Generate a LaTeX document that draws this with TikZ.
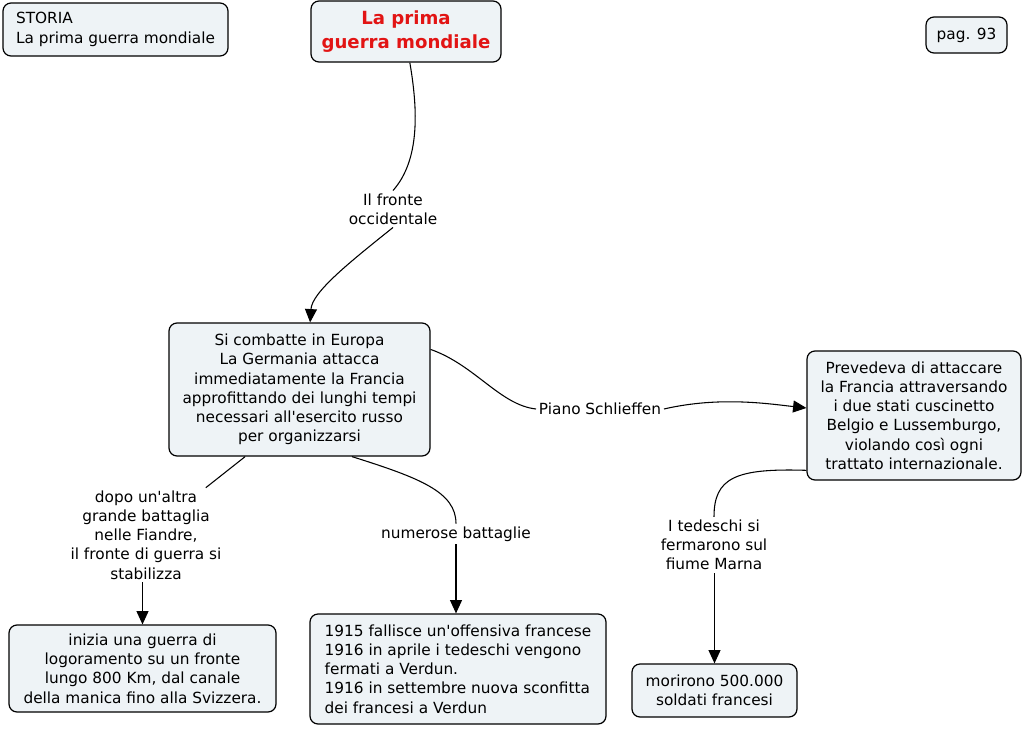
\documentclass[tikz,border=0pt]{standalone}
\usepackage{fontspec}
\setmainfont{DejaVu Sans}
\usetikzlibrary{arrows.meta}
\definecolor{boxfill}{RGB}{238,243,246}
\definecolor{titlered}{RGB}{226,20,20}
\def\px{0.75pt}
\newcommand{\ap}{\textquotesingle}
\begin{document}
\begin{tikzpicture}[x=0.75pt,y=-0.75pt,
  every node/.style={font=\fontsize{11.5}{14.4}\selectfont, inner sep=0pt},
  box/.style={draw, line width=0.9pt, rounded corners=6pt, fill=boxfill, align=center},
  lab/.style={fill=white, align=center, inner sep=2pt},
  conn/.style={line width=0.8pt},
  arr/.style={conn, -{Triangle[length=10pt,width=9pt]}}
]
\useasboundingbox (0,0) rectangle (1024,728);
\fill[white] (0,0) rectangle (1024,728);

\node[box, align=left, minimum width=225*\px, minimum height=53*\px] (storia) at (115.5,29.5) {STORIA\\La prima guerra mondiale};
\node[box, minimum width=190*\px, minimum height=61*\px, font=\fontsize{13.6}{17.5}\selectfont\bfseries, text=titlered] (title) at (406,31.5) {La prima\\guerra mondiale};
\node[box, minimum width=81*\px, minimum height=36*\px] (pag) at (966.5,35) {pag. 93};

\node[box, minimum width=261*\px, minimum height=133*\px] (main) at (299.5,389.5) {Si combatte in Europa\\La Germania attacca\\immediatamente la Francia\\approfittando dei lunghi tempi\\necessari all\ap esercito russo\\per organizzarsi};
\node[box, minimum width=214*\px, minimum height=129*\px] (right) at (914,415.5) {Prevedeva di attaccare\\la Francia attraversando\\i due stati cuscinetto\\Belgio e Lussemburgo,\\violando così ogni\\trattato internazionale.};
\node[box, minimum width=267*\px, minimum height=87*\px] (bl) at (142.5,668.5) {inizia una guerra di\\logoramento su un fronte\\lungo 800 Km, dal canale\\della manica fino alla Svizzera.};
\node[box, align=left, minimum width=296*\px, minimum height=110*\px] (bm) at (458,669) {1915 fallisce un\ap offensiva francese\\1916 in aprile i tedeschi vengono\\fermati a Verdun.\\1916 in settembre nuova sconfitta\\dei francesi a Verdun};
\node[box, minimum width=165*\px, minimum height=53*\px] (br) at (714.5,690.5) {morirono 500.000\\soldati francesi};

\node[lab] (lab1) at (393,209) {Il fronte\\occidentale};
\node[lab] (lab2) at (600,409) {Piano Schlieffen};
\node[lab] (lab3) at (146,535) {dopo un\ap altra\\grande battaglia\\nelle Fiandre,\\il fronte di guerra si\\stabilizza};
\node[lab] (lab4) at (456,534) {numerose battaglie};
\node[lab] (lab5) at (714,545) {I tedeschi si\\fermarono sul\\fiume Marna};

\draw[conn] (title.277.5) .. controls (418,110) and (420,160) .. (lab1.north);
\draw[arr] (lab1.south) .. controls (350,262) and (312,292) .. (main.81);

\draw[conn] (main.17.6) .. controls (475,365) and (500,405) .. (lab2.west);
\draw[arr] (lab2.east) .. controls (720,396) and (770,404) .. (right.176);

\draw[conn] (main.231.7) -- (lab3);
\draw[arr] (lab3.south -| bl.north) -- (bl.north);

\draw[conn] (main.308.3) .. controls (420,478) and (456,492) .. (lab4.north);
\draw[arr] (lab4.south) -- (lab4.south |- bm.north);

\draw[conn] (right.207) .. controls (735,468) and (714,478) .. (lab5.north);
\draw[arr] (lab5.south -| br.north) -- (br.north);
\end{tikzpicture}
\end{document}
